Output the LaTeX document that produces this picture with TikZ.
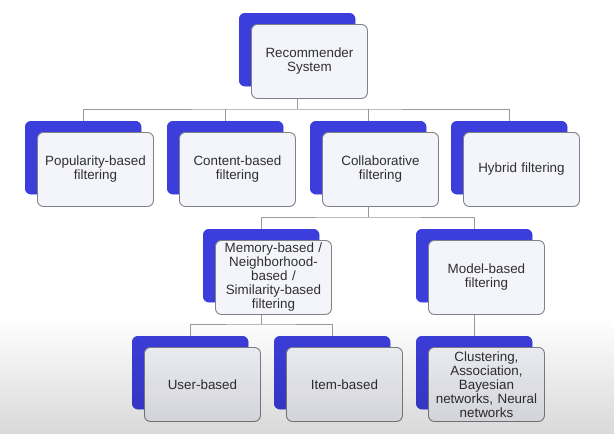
\documentclass[tikz,border=0pt]{standalone}
\usepackage{fontspec}
\setmainfont{Liberation Sans}
\usetikzlibrary{fadings}
\definecolor{cardblue}{HTML}{3C3EDC}
\definecolor{cardfill}{HTML}{F4F5FB}
\definecolor{cardline}{HTML}{808088}
\definecolor{connline}{HTML}{9A9A9A}
\definecolor{txt}{HTML}{303030}
\tikzfading[name=fadedown, top color=transparent!100, bottom color=transparent!85]
\begin{document}
\begin{tikzpicture}[x=1pt,y=-1pt,
  shadowcard/.style={fill=cardblue, rounded corners=6pt, minimum width=116pt, minimum height=73pt, inner sep=0pt, anchor=north west},
  card/.style={fill=cardfill, draw=cardline, line width=0.9pt, rounded corners=6pt, minimum width=116pt, minimum height=74pt, inner sep=0pt, anchor=north west, text width=112pt, align=center, text=txt, font=\fontsize{13.4}{14}\selectfont},
  conn/.style={draw=connline, line width=0.9pt}]
\useasboundingbox (0,0) rectangle (615,434);
\fill[white] (0,0) rectangle (615,434);
% shadow cards
\foreach \n/\x/\y in {root/251/24, pop/37/132, cont/179/132, coll/322/132, hyb/463/132, mem/215/240, mod/428/240, user/144/347, item/286/347, clus/428/347}{
  \node[shadowcard] (\n b) at (\x-12,\y-11) {};
}
% connectors
\draw[conn] (rootb.south |- 0,98) -- (rootb.south |- 0,109) coordinate (bar1);
\draw[conn] (popb.north) |- (bar1) -| (hybb.north);
\draw[conn] (contb.north) -- (contb.north |- bar1);
\draw[conn] (collb.north) -- (collb.north |- bar1);
\draw[conn] (collb.south |- 0,206) -- (collb.south |- 0,217) coordinate (bar2);
\draw[conn] (memb.north) |- (bar2) -| (modb.north);
\draw[conn] (memb.south |- 0,313) -- (memb.south |- 0,324) coordinate (bar3);
\draw[conn] (userb.north) |- (bar3) -| (itemb.north);
\draw[conn] (modb.south |- 0,313) -- (clusb.north);
% redraw shadow cards over connectors
\foreach \n/\x/\y in {root/251/24, pop/37/132, cont/179/132, coll/322/132, hyb/463/132, mem/215/240, mod/428/240, user/144/347, item/286/347, clus/428/347}{
  \fill[cardblue, rounded corners=6pt] (\n b.north west) rectangle (\n b.south east);
}
% cards
\node[card] (root) at (251,24) {Recommender\\System};
\node[card] (pop) at (37,132) {Popularity-based\\filtering};
\node[card] (cont) at (179,132) {Content-based\\filtering};
\node[card] (coll) at (322,132) {Collaborative\\filtering};
\node[card] (hyb) at (463,132) {Hybrid filtering};
\node[card] (mem) at (215,240) {Memory-based /\\Neighborhood-\\based /\\Similarity-based\\filtering};
\node[card] (mod) at (428,240) {Model-based\\filtering};
\node[card] (user) at (144,347) {User-based};
\node[card] (item) at (286,347) {Item-based};
\node[card] (clus) at (428,347) {Clustering,\\Association,\\Bayesian\\networks, Neural\\networks};
% video overlay shading
\fill[black, path fading=fadedown] (0,317) rectangle (615,434);
\end{tikzpicture}
\end{document}
